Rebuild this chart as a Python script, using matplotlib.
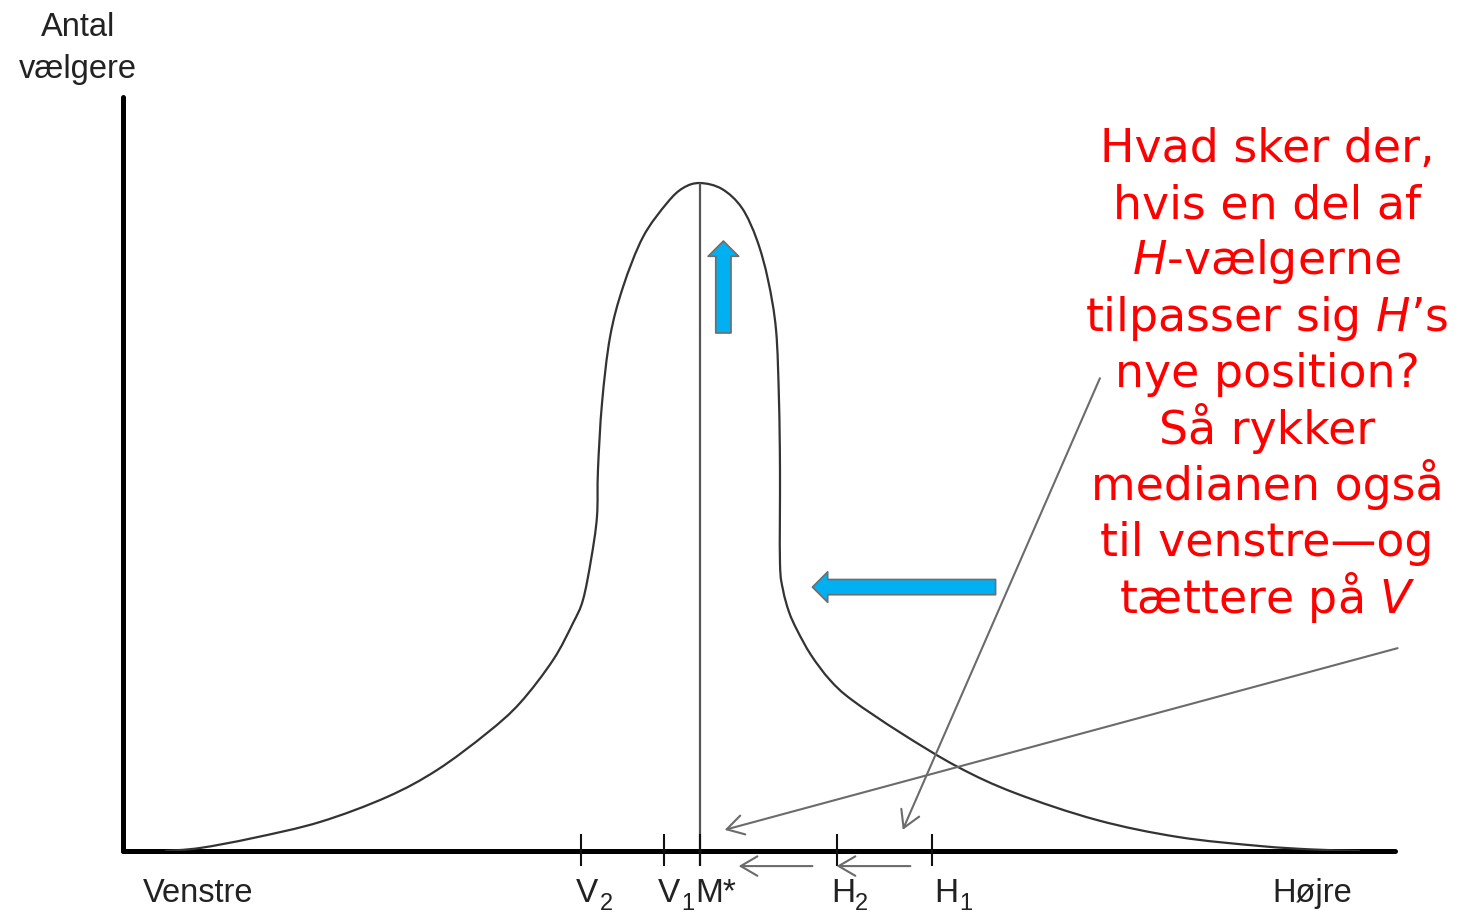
import matplotlib
matplotlib.use("Agg")
import matplotlib.pyplot as plt
import numpy as np
from matplotlib.path import Path
from matplotlib.patches import PathPatch

# ---------------- data ----------------
# voter distribution (position on left-right scale 0-100, number of voters 0-100)
curve_x = [3.30, 6.05, 10.22, 15.49, 20.75, 24.69, 28.62, 31.21, 33.81, 35.38,
           36.16, 36.79, 37.26, 37.34, 37.66, 38.29, 39.31, 40.88, 42.77, 44.03,
           45.36,
           47.09, 48.66, 49.84, 50.71, 51.34, 51.57, 51.65, 51.65, 51.89, 52.36,
           52.99, 54.09, 55.58, 57.31, 61.16, 65.64, 70.13, 76.57, 82.94, 89.39,
           93.55, 97.25]
curve_y = [0.00, 0.40, 1.72, 3.85, 7.16, 10.74, 15.65, 19.63, 25.33, 30.24,
           33.29, 38.59, 44.30, 50.53, 59.42, 68.17, 74.80, 81.43, 85.94, 87.93,
           88.59,
           87.80, 85.28, 81.03, 75.73, 69.10, 59.81, 50.53, 38.20, 34.62, 31.70,
           29.31, 25.99, 22.68, 20.03, 15.65, 11.14, 7.69, 4.11, 1.86, 0.66,
           0.20, 0.00]
peak_x = 45.36
peak_y = 88.59

tick_names = ["V", "V", "M*", "H", "H"]
tick_subs = ["2", "1", "", "2", "1"]
tick_pos = [36.0, 42.5, 45.4, 56.1, 63.6]

y_label = ["Antal", "vælgere"]
x_left_label = "Venstre"
x_right_label = "Højre"

question_lines = [
    "Hvad sker der,",
    "hvis en del af",
    r"$\mathit{H}$-vælgerne",
    "tilpasser sig $\\mathit{H}$’s",
    "nye position?",
    "Så rykker",
    "medianen også",
    "til venstre—og",
    r"tættere på $\mathit{V}$",
]

# ---------------- style ----------------
plt.rcParams['mathtext.fontset'] = 'custom'
plt.rcParams['mathtext.it'] = 'DejaVu Sans:italic'
plt.rcParams['mathtext.rm'] = 'DejaVu Sans'

label_font = "Liberation Sans"

W, H = 1463, 914
fig = plt.figure(figsize=(W / 100, H / 100), dpi=100)
fig.patch.set_facecolor("white")


def fx(px):
    return px / W


def fy(py):
    return 1 - py / H


ax = fig.add_axes([fx(123), fy(851), (1395 - 123) / W, (851 - 97) / H])
ax.set_xlim(0, 100)
ax.set_ylim(0, 100)
ax.set_xticks([])
ax.set_yticks([])
for s in ("top", "right"):
    ax.spines[s].set_visible(False)
for s in ("left", "bottom"):
    ax.spines[s].set_linewidth(3.6)
    ax.spines[s].set_color("black")
    ax.spines[s].set_capstyle("round")
ax.patch.set_alpha(0)

# distribution curve, drawn as a smooth (Catmull-Rom) path through the points
P = np.column_stack([curve_x, curve_y])
Pe = np.vstack([P[0], P, P[-1]])
verts = [tuple(P[0])]
codes = [Path.MOVETO]
for i in range(1, len(Pe) - 2):
    p0, p1, p2, p3 = Pe[i - 1], Pe[i], Pe[i + 1], Pe[i + 2]
    c1 = p1 + (p2 - p0) / 6.0
    c2 = p2 - (p3 - p1) / 6.0
    verts += [tuple(c1), tuple(c2), tuple(p2)]
    codes += [Path.CURVE4] * 3
ax.add_patch(PathPatch(Path(verts, codes), fill=False, edgecolor="#333333",
                       lw=1.6, joinstyle="round", zorder=3))

# median line
ax.vlines(peak_x, -2.0, peak_y, color="#555555", lw=1.6, clip_on=False, zorder=3)
# ticks
ax.vlines(tick_pos, -2.0, 2.25, color="#111111", lw=1.5, clip_on=False, zorder=4)

# tick labels (centres of main letter and subscript)
tick_label_px = [(586.5, 606.5), (669, 688), (716, None), (843, 861.5), (946, 965.5)]
for name, sub, (lx, sx) in zip(tick_names, tick_subs, tick_label_px):
    fig.text(fx(lx), fy(902), name, fontsize=24, family=label_font,
             color="#222222", ha="center", va="baseline")
    if sub:
        fig.text(fx(sx), fy(910), sub, fontsize=17, family=label_font,
                 color="#222222", ha="center", va="baseline")

# axis labels
fig.text(fx(143), fy(902), x_left_label, fontsize=23.5, family=label_font,
         color="#222222", ha="left", va="baseline")
fig.text(fx(1272), fy(902), x_right_label, fontsize=23.5, family=label_font,
         color="#222222", ha="left", va="baseline")
fig.text(fx(78), fy(36), y_label[0], fontsize=23.5, family=label_font,
         color="#222222", ha="center", va="baseline")
fig.text(fx(78), fy(78), y_label[1], fontsize=23.5, family=label_font,
         color="#222222", ha="center", va="baseline")

# gray arrows
gray = "#6b6b6b"
arrow_specs = [
    ((100.2, 26.9), (47.3, 2.8)),
    ((76.8, 62.7), (61.3, 2.8)),
    ((54.2, -2.0), (48.4, -2.0)),
    ((61.9, -2.0), (56.1, -2.0)),
]
for start, end in arrow_specs:
    ax.annotate("", xy=end, xytext=start, xycoords="data", textcoords="data",
                annotation_clip=False,
                arrowprops=dict(arrowstyle="->,head_length=0.6,head_width=0.35",
                                mutation_scale=20, color=gray, lw=1.5,
                                shrinkA=0, shrinkB=0), zorder=5)

# blue arrows
blue = "#00B0F0"
for start, end in [((47.2, 68.7), (47.2, 80.9)), ((68.6, 35.0), (54.2, 35.0))]:
    ax.annotate("", xy=end, xytext=start, xycoords="data", textcoords="data",
                annotation_clip=False,
                arrowprops=dict(arrowstyle="simple,head_length=11,head_width=22,tail_width=11",
                                mutation_scale=1, fc=blue, ec="#6e6e6e", lw=1.2,
                                shrinkA=0, shrinkB=0), zorder=6)

# red question text
base0, step = 161.7, 56.4
for i, line in enumerate(question_lines):
    fig.text(fx(1267), fy(base0 + i * step), line, fontsize=33, family="DejaVu Sans",
             color="#FF0000", ha="center", va="baseline")

fig.savefig("out.png", dpi=100, facecolor="white")
